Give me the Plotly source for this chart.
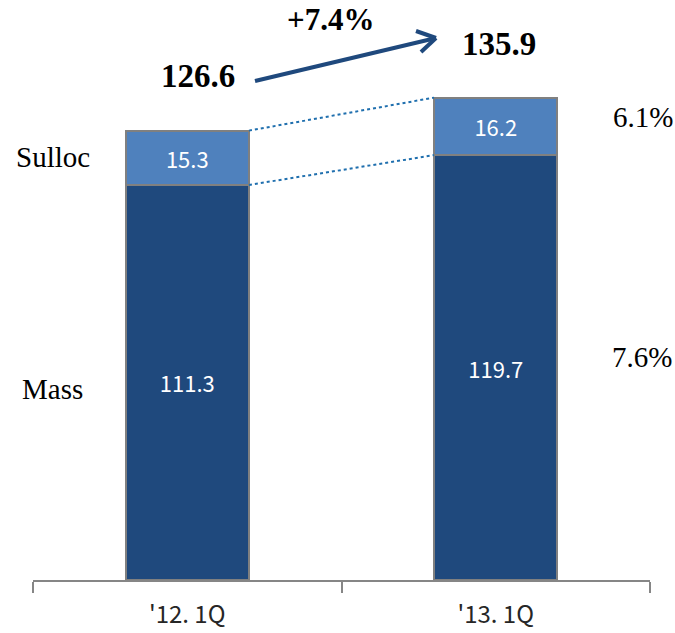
import plotly.graph_objects as go

# ---- data ----
categories = ["'12. 1Q", "'13. 1Q"]
mass = [111.3, 119.7]
sulloc = [15.3, 16.2]
totals = [126.6, 135.9]
growth_total = "+7.4%"
growth_sulloc = "6.1%"
growth_mass = "7.6%"
series_names = ["Mass", "Sulloc"]

# ---- layout constants ----
W, H = 675, 633
ML, MR, MT, MB = 33, 25, 0, 53
YMAX = 163.4
PW = W - ML - MR
PH = H - MT - MB

def dx(px):  # pixel -> x data (category index)
    return (px - ML) / PW * 2 - 0.5

def dy(py):  # pixel -> y data
    return (H - MB - py) / PH * YMAX

DARK = "#1F497D"
LIGHT = "#4F81BD"
SERIF = "Liberation Serif, Times New Roman, serif"
SANS = "Noto Sans CJK KR, Noto Sans, sans-serif"

fig = go.Figure()
fig.add_bar(x=categories, y=mass, name=series_names[0],
            marker=dict(color=DARK, line=dict(color="#808080", width=2)),
            text=[f"{v:.1f}" for v in mass], textposition="inside",
            insidetextanchor="middle", textangle=0,
            textfont=dict(family=SANS, size=22, color="white"))
fig.add_bar(x=categories, y=sulloc, name=series_names[1],
            marker=dict(color=LIGHT, line=dict(color="#808080", width=2)),
            text=[f"{v:.1f}" for v in sulloc], textposition="inside",
            insidetextanchor="middle", textangle=0,
            textfont=dict(family=SANS, size=22, color="white"))

half = 0.2
shapes = []
# dotted connectors between bars
for lvl0, lvl1 in [(totals[0], totals[1]), (mass[0], mass[1])]:
    shapes.append(dict(type="line", xref="x", yref="y",
                       x0=0 + half, y0=lvl0, x1=1 - half, y1=lvl1,
                       line=dict(color="#1F6FAE", width=2, dash="dot")))
# growth arrow
ax0, ay0, ax1, ay1 = dx(255), dy(81), dx(436), dy(38)
shapes.append(dict(type="line", xref="x", yref="y", x0=ax0, y0=ay0, x1=ax1, y1=ay1,
                   line=dict(color=DARK, width=4)))
shapes.append(dict(type="line", xref="x", yref="y", x0=dx(416), y0=dy(31), x1=ax1, y1=ay1,
                   line=dict(color=DARK, width=4)))
shapes.append(dict(type="line", xref="x", yref="y", x0=dx(421), y0=dy(52), x1=ax1, y1=ay1,
                   line=dict(color=DARK, width=4)))

ann = []
def add(text, px, py, font):
    ann.append(dict(text=text, x=dx(px), y=dy(py), xref="x", yref="y",
                    showarrow=False, xanchor="center", yanchor="middle", font=font))

add(series_names[1], 53, 157, dict(family=SERIF, size=29, color="black"))
add(series_names[0], 52, 389, dict(family=SERIF, size=29, color="black"))
add(f"<b>{totals[0]:.1f}</b>", 198, 76, dict(family=SERIF, size=33, color="black"))
add(f"<b>{totals[1]:.1f}</b>", 499, 44, dict(family=SERIF, size=33, color="black"))
add(f"<b>{growth_total}</b>", 330, 19, dict(family=SERIF, size=31, color="black"))
add(growth_sulloc, 643, 117, dict(family=SERIF, size=29, color="black"))
add(growth_mass, 642, 357, dict(family=SERIF, size=29, color="black"))

fig.update_layout(
    width=W, height=H, barmode="stack", bargap=0.6,
    margin=dict(l=ML, r=MR, t=MT, b=MB, pad=0),
    paper_bgcolor="white", plot_bgcolor="white",
    showlegend=False, shapes=shapes, annotations=ann,
    xaxis=dict(type="category", range=[-0.5, 1.5], showline=True, linecolor="#868686",
               linewidth=2, ticks="outside", tickson="boundaries", ticklen=11,
               tickwidth=2, tickcolor="#868686", showgrid=False, zeroline=False,
               ticklabelstandoff=12,
               tickfont=dict(family=SANS, size=24, color="#262626")),
    yaxis=dict(range=[0, YMAX], visible=False, showgrid=False, zeroline=False),
    uniformtext=dict(mode=False),
)
fig.write_html("out.html", config={"displayModeBar": False},
               post_script="document.body.style.margin='0';document.body.style.overflow='hidden';")
